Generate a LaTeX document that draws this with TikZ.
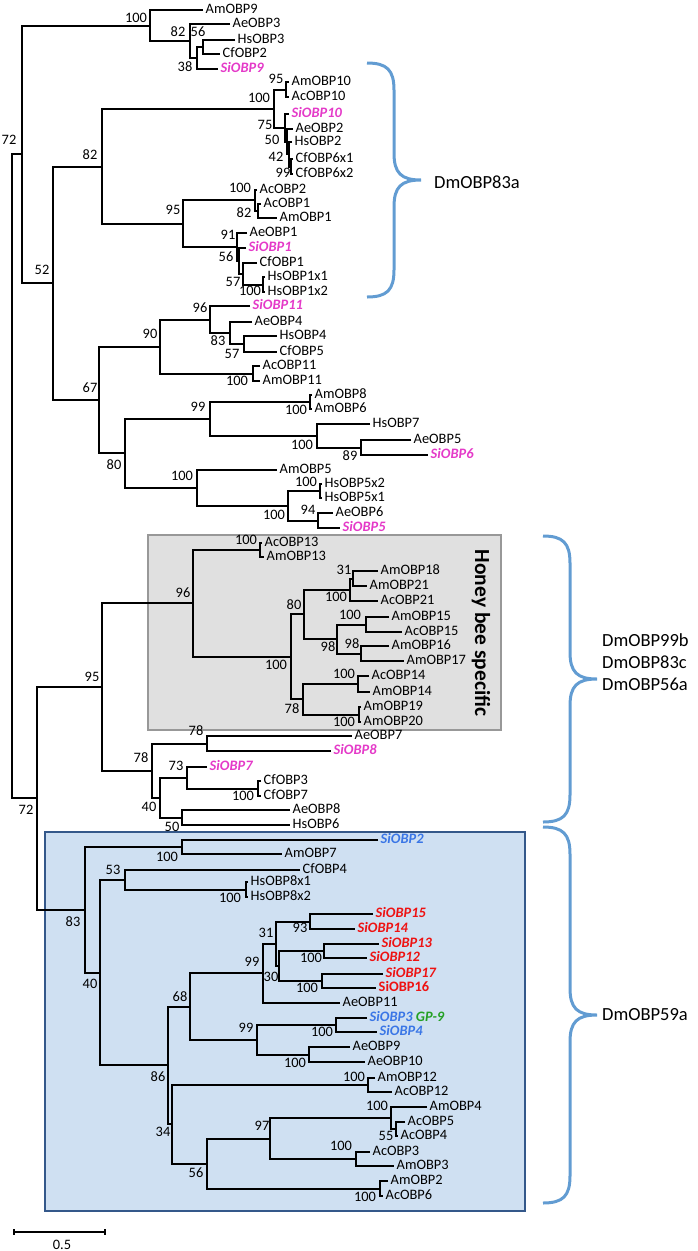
\documentclass[tikz,border=0pt]{standalone}
\usepackage{fontspec}
\setmainfont{Carlito}
\usepackage{xcolor}
\usepackage{tikz}

\definecolor{simag}{RGB}{228,58,200}
\definecolor{siblu}{RGB}{58,118,230}
\definecolor{sired}{RGB}{238,18,18}
\definecolor{gpgrn}{RGB}{36,160,36}
\definecolor{beefill}{RGB}{224,224,224}
\definecolor{beeline}{RGB}{152,152,152}
\definecolor{bluefill}{RGB}{207,224,242}
\definecolor{blueline}{RGB}{52,88,138}
\definecolor{bracecol}{RGB}{98,156,210}

\newcommand{\lblfont}{\fontsize{14.4}{16}\selectfont}

\tikzstyle{obpleaf} = [anchor=west, 
inner xsep=2.5pt, 
inner ysep=0pt, 
text depth=2.5pt, 
font=\lblfont]
\tikzstyle{obpsimag} = [obpleaf, text=simag, font=\lblfont\bfseries\itshape]
\tikzstyle{obpsiblu} = [obpleaf, text=siblu, font=\lblfont\bfseries\itshape]
\tikzstyle{obpsired} = [obpleaf, text=sired, font=\lblfont\bfseries\itshape]
\tikzstyle{bootval} = [inner sep=0pt, font=\lblfont]
\tikzstyle{treeline} = [line width=2pt]
\tikzstyle{beebox} = [fill=beefill, draw=beeline, line width=1.4pt]
\tikzstyle{bluebox} = [fill=bluefill, draw=blueline, line width=1.4pt]
\tikzstyle{bracket} = [draw=bracecol, line width=3pt]
\tikzstyle{dmtext} = [anchor=west, align=left, inner sep=0pt, 
font=\fontsize{18.5}{22}\selectfont]

\begin{document}
\begin{tikzpicture}[x=1pt, y=-1pt]

    \useasboundingbox (0,0) rectangle (697,1251);

    % shaded groups
    \draw [beebox] (148,535) rectangle (501,730);
    \draw [bluebox] (45,832) rectangle (525,1211);
    \node (beelabel) [rotate=-90, font=\fontsize{21.5}{24}\selectfont\bfseries] at (481,633) {Honey bee specific};

    % leaves
    \node (AmOBP9) [obpleaf] at (203,10) {AmOBP9};
    \node (AeOBP3) [obpleaf] at (230,24) {AeOBP3};
    \node (HsOBP3) [obpleaf] at (235,40) {HsOBP3};
    \node (CfOBP2) [obpleaf] at (220,54) {CfOBP2};
    \node (SiOBP9) [obpsimag] at (218,69) {SiOBP9};
    \node (AmOBP10) [obpleaf] at (289,82) {AmOBP10};
    \node (AcOBP10) [obpleaf] at (289,97) {AcOBP10};
    \node (SiOBP10) [obpsimag] at (289,114) {SiOBP10};
    \node (AeOBP2) [obpleaf] at (293,129) {AeOBP2};
    \node (HsOBP2) [obpleaf] at (292,142) {HsOBP2};
    \node (CfOBP6x1) [obpleaf] at (293,159) {CfOBP6x1};
    \node (CfOBP6x2) [obpleaf] at (293,174) {CfOBP6x2};
    \node (AcOBP2) [obpleaf] at (257,190) {AcOBP2};
    \node (AcOBP1) [obpleaf] at (261,204) {AcOBP1};
    \node (AmOBP1) [obpleaf] at (277,218) {AmOBP1};
    \node (AeOBP1) [obpleaf] at (247,233) {AeOBP1};
    \node (SiOBP1) [obpsimag] at (246,248) {SiOBP1};
    \node (CfOBP1) [obpleaf] at (257,263) {CfOBP1};
    \node (HsOBP1x1) [obpleaf] at (265,277) {HsOBP1x1};
    \node (HsOBP1x2) [obpleaf] at (265,292) {HsOBP1x2};
    \node (SiOBP11) [obpsimag] at (250,306) {SiOBP11};
    \node (AeOBP4) [obpleaf] at (252,322) {AeOBP4};
    \node (HsOBP4) [obpleaf] at (277,336) {HsOBP4};
    \node (CfOBP5) [obpleaf] at (277,352) {CfOBP5};
    \node (AcOBP11) [obpleaf] at (260,366) {AcOBP11};
    \node (AmOBP11) [obpleaf] at (260,381) {AmOBP11};
    \node (AmOBP8) [obpleaf] at (312,395) {AmOBP8};
    \node (AmOBP6) [obpleaf] at (312,409) {AmOBP6};
    \node (HsOBP7) [obpleaf] at (370,424) {HsOBP7};
    \node (AeOBP5) [obpleaf] at (411,440) {AeOBP5};
    \node (SiOBP6) [obpsimag] at (428,455) {SiOBP6};
    \node (AmOBP5) [obpleaf] at (277,470) {AmOBP5};
    \node (HsOBP5x2) [obpleaf] at (322,484) {HsOBP5x2};
    \node (HsOBP5x1) [obpleaf] at (322,498) {HsOBP5x1};
    \node (AeOBP6) [obpleaf] at (333,513) {AeOBP6};
    \node (SiOBP5) [obpsimag] at (340,528) {SiOBP5};

    \node (AcOBP13) [obpleaf] at (262,543) {AcOBP13};
    \node (AmOBP13) [obpleaf] at (264,557) {AmOBP13};
    \node (AmOBP18) [obpleaf] at (378,571) {AmOBP18};
    \node (AmOBP21) [obpleaf] at (367,586) {AmOBP21};
    \node (AcOBP21) [obpleaf] at (378,601) {AcOBP21};
    \node (AmOBP15) [obpleaf] at (389,617) {AmOBP15};
    \node (AcOBP15) [obpleaf] at (402,632) {AcOBP15};
    \node (AmOBP16) [obpleaf] at (389,646) {AmOBP16};
    \node (AmOBP17) [obpleaf] at (404,661) {AmOBP17};
    \node (AcOBP14) [obpleaf] at (369,676) {AcOBP14};
    \node (AmOBP14) [obpleaf] at (370,692) {AmOBP14};
    \node (AmOBP19) [obpleaf] at (361,707) {AmOBP19};
    \node (AmOBP20) [obpleaf] at (361,722) {AmOBP20};
    \node (AeOBP7) [obpleaf] at (352,736) {AeOBP7};
    \node (SiOBP8) [obpsimag] at (331,751) {SiOBP8};
    \node (SiOBP7) [obpsimag] at (207,767) {SiOBP7};
    \node (CfOBP3) [obpleaf] at (261,781) {CfOBP3};
    \node (CfOBP7) [obpleaf] at (261,796) {CfOBP7};
    \node (AeOBP8) [obpleaf] at (290,810) {AeOBP8};
    \node (HsOBP6) [obpleaf] at (290,825) {HsOBP6};

    \node (SiOBP2) [obpsiblu] at (378,840) {SiOBP2};
    \node (AmOBP7) [obpleaf] at (282,854) {AmOBP7};
    \node (CfOBP4) [obpleaf] at (300,870) {CfOBP4};
    \node (HsOBP8x1) [obpleaf] at (248,882) {HsOBP8x1};
    \node (HsOBP8x2) [obpleaf] at (248,897) {HsOBP8x2};
    \node (SiOBP15) [obpsired] at (373,914) {SiOBP15};
    \node (SiOBP14) [obpsired] at (355,929) {SiOBP14};
    \node (SiOBP13) [obpsired] at (379,944) {SiOBP13};
    \node (SiOBP12) [obpsired] at (367,958) {SiOBP12};
    \node (SiOBP17) [obpsired] at (383,974) {SiOBP17};
    \node (SiOBP16) [obpsired, font=\lblfont\bfseries] at (376,988) {SiOBP16};
    \node (AeOBP11) [obpleaf] at (340,1003) {AeOBP11};
    \node (SiOBP3) [obpsiblu] at (367,1018) {SiOBP3 \textcolor{gpgrn}{GP-9}};
    \node (SiOBP4) [obpsiblu] at (377,1032) {SiOBP4};
    \node (AeOBP9) [obpleaf] at (350,1047) {AeOBP9};
    \node (AeOBP10) [obpleaf] at (365,1062) {AeOBP10};
    \node (AmOBP12) [obpleaf] at (375,1078) {AmOBP12};
    \node (AcOBP12) [obpleaf] at (392,1092) {AcOBP12};
    \node (AmOBP4) [obpleaf] at (427,1107) {AmOBP4};
    \node (AcOBP5) [obpleaf] at (405,1122) {AcOBP5};
    \node (AcOBP4) [obpleaf] at (398,1136) {AcOBP4};
    \node (AcOBP3) [obpleaf] at (370,1152) {AcOBP3};
    \node (AmOBP3) [obpleaf] at (394,1166) {AmOBP3};
    \node (AmOBP2) [obpleaf] at (388,1181) {AmOBP2};
    \node (AcOBP6) [obpleaf] at (383,1196) {AcOBP6};

    % inner nodes
    \coordinate (root) at (12,476);
    \coordinate (n72u) at (22,154);
    \coordinate (n100a) at (150,26);
    \coordinate (n82a) at (190,41);
    \coordinate (n38) at (197,58);
    \coordinate (n56a) at (203,47);
    \coordinate (n52) at (53,283);
    \coordinate (n82b) at (102,167);
    \coordinate (n100b) at (274,109);
    \coordinate (n95b) at (286,90);
    \coordinate (n75) at (285,128);
    \coordinate (n50) at (287,142);
    \coordinate (n42) at (289,154);
    \coordinate (n99b) at (291,167);
    \coordinate (n95a) at (183,224);
    \coordinate (n100c) at (255,200);
    \coordinate (n82c) at (258,211);
    \coordinate (n91) at (237,247);
    \coordinate (n56b) at (239,261);
    \coordinate (n57a) at (243,274);
    \coordinate (n100d) at (263,285);
    \coordinate (n67) at (99,400);
    \coordinate (n90) at (160,347);
    \coordinate (n96a) at (210,320);
    \coordinate (n83a) at (230,333);
    \coordinate (n57b) at (244,344);
    \coordinate (n100e) at (253,374);
    \coordinate (n80a) at (125,453);
    \coordinate (n99a) at (210,419);
    \coordinate (n100g) at (310,402);
    \coordinate (n100h) at (317,436);
    \coordinate (n89) at (361,448);
    \coordinate (n100f) at (197,488);
    \coordinate (n100i) at (288,506);
    \coordinate (n100j) at (320,491);
    \coordinate (n94) at (318,521);

    \coordinate (n72l) at (37,798);
    \coordinate (n95c) at (102,687);
    \coordinate (n96b) at (193,603);
    \coordinate (n100k) at (260,550);
    \coordinate (n100l) at (291,657);
    \coordinate (n80b) at (304,614);
    \coordinate (n100m) at (350,590);
    \coordinate (n31a) at (353,579);
    \coordinate (n98a) at (337,639);
    \coordinate (n100n) at (366,625);
    \coordinate (n98b) at (361,654);
    \coordinate (n78b) at (303,699);
    \coordinate (n100o) at (358,684);
    \coordinate (n100p) at (359,715);
    \coordinate (n78a) at (152,771);
    \coordinate (n78c) at (207,744);
    \coordinate (n40a) at (160,798);
    \coordinate (n73) at (187,778);
    \coordinate (n100q) at (258,789);
    \coordinate (n50c) at (182,818);

    \coordinate (n83b) at (85,910);
    \coordinate (n100r) at (182,847);
    \coordinate (n40b) at (100,973);
    \coordinate (n53) at (125,880);
    \coordinate (n100s) at (246,890);
    \coordinate (n86) at (168,1065);
    \coordinate (n68) at (190,1007);
    \coordinate (n99c) at (263,973);
    \coordinate (n31b) at (276,944);
    \coordinate (n93) at (310,922);
    \coordinate (n30) at (279,966);
    \coordinate (n100t) at (324,951);
    \coordinate (n100u) at (322,981);
    \coordinate (n99d) at (257,1040);
    \coordinate (n100v) at (336,1025);
    \coordinate (n100w) at (309,1055);
    \coordinate (n34) at (172,1124);
    \coordinate (n100x) at (368,1085);
    \coordinate (n56c) at (207,1164);
    \coordinate (n97) at (270,1139);
    \coordinate (n100y) at (391,1118);
    \coordinate (n55) at (396,1129);
    \coordinate (n100z) at (356,1159);
    \coordinate (n100aa) at (380,1189);

    % branches
    \draw [treeline] (n72u) -| (root) |- (n72l);
    \draw [treeline] (n100a) -| (n72u) |- (n52);
    \draw [treeline] (AmOBP9) -| (n100a) |- (n82a);
    \draw [treeline] (AeOBP3) -| (n82a) |- (n38);
    \draw [treeline] (n56a) -| (n38) |- (SiOBP9);
    \draw [treeline] (HsOBP3) -| (n56a) |- (CfOBP2);
    \draw [treeline] (n82b) -| (n52) |- (n67);
    \draw [treeline] (n100b) -| (n82b) |- (n95a);
    \draw [treeline] (n95b) -| (n100b) |- (n75);
    \draw [treeline] (AmOBP10) -| (n95b) |- (AcOBP10);
    \draw [treeline] (SiOBP10) -| (n75) |- (n50);
    \draw [treeline] (AeOBP2) -| (n50) |- (n42);
    \draw [treeline] (HsOBP2) -| (n42) |- (n99b);
    \draw [treeline] (CfOBP6x1) -| (n99b) |- (CfOBP6x2);
    \draw [treeline] (n100c) -| (n95a) |- (n91);
    \draw [treeline] (AcOBP2) -| (n100c) |- (n82c);
    \draw [treeline] (AcOBP1) -| (n82c) |- (AmOBP1);
    \draw [treeline] (AeOBP1) -| (n91) |- (n56b);
    \draw [treeline] (SiOBP1) -| (n56b) |- (n57a);
    \draw [treeline] (CfOBP1) -| (n57a) |- (n100d);
    \draw [treeline] (HsOBP1x1) -| (n100d) |- (HsOBP1x2);
    \draw [treeline] (n90) -| (n67) |- (n80a);
    \draw [treeline] (n96a) -| (n90) |- (n100e);
    \draw [treeline] (SiOBP11) -| (n96a) |- (n83a);
    \draw [treeline] (AeOBP4) -| (n83a) |- (n57b);
    \draw [treeline] (HsOBP4) -| (n57b) |- (CfOBP5);
    \draw [treeline] (AcOBP11) -| (n100e) |- (AmOBP11);
    \draw [treeline] (n99a) -| (n80a) |- (n100f);
    \draw [treeline] (n100g) -| (n99a) |- (n100h);
    \draw [treeline] (AmOBP8) -| (n100g) |- (AmOBP6);
    \draw [treeline] (HsOBP7) -| (n100h) |- (n89);
    \draw [treeline] (AeOBP5) -| (n89) |- (SiOBP6);
    \draw [treeline] (AmOBP5) -| (n100f) |- (n100i);
    \draw [treeline] (n100j) -| (n100i) |- (n94);
    \draw [treeline] (HsOBP5x2) -| (n100j) |- (HsOBP5x1);
    \draw [treeline] (AeOBP6) -| (n94) |- (SiOBP5);

    \draw [treeline] (n95c) -| (n72l) |- (n83b);
    \draw [treeline] (n96b) -| (n95c) |- (n78a);
    \draw [treeline] (n100k) -| (n96b) |- (n100l);
    \draw [treeline] (AcOBP13) -| (n100k) |- (AmOBP13);
    \draw [treeline] (n80b) -| (n100l) |- (n78b);
    \draw [treeline] (n100m) -| (n80b) |- (n98a);
    \draw [treeline] (n31a) -| (n100m) |- (AcOBP21);
    \draw [treeline] (AmOBP18) -| (n31a) |- (AmOBP21);
    \draw [treeline] (n100n) -| (n98a) |- (n98b);
    \draw [treeline] (AmOBP15) -| (n100n) |- (AcOBP15);
    \draw [treeline] (AmOBP16) -| (n98b) |- (AmOBP17);
    \draw [treeline] (n100o) -| (n78b) |- (n100p);
    \draw [treeline] (AcOBP14) -| (n100o) |- (AmOBP14);
    \draw [treeline] (AmOBP19) -| (n100p) |- (AmOBP20);
    \draw [treeline] (n78c) -| (n78a) |- (n40a);
    \draw [treeline] (AeOBP7) -| (n78c) |- (SiOBP8);
    \draw [treeline] (n73) -| (n40a) |- (n50c);
    \draw [treeline] (SiOBP7) -| (n73) |- (n100q);
    \draw [treeline] (CfOBP3) -| (n100q) |- (CfOBP7);
    \draw [treeline] (AeOBP8) -| (n50c) |- (HsOBP6);

    \draw [treeline] (n100r) -| (n83b) |- (n40b);
    \draw [treeline] (SiOBP2) -| (n100r) |- (AmOBP7);
    \draw [treeline] (n53) -| (n40b) |- (n86);
    \draw [treeline] (CfOBP4) -| (n53) |- (n100s);
    \draw [treeline] (HsOBP8x1) -| (n100s) |- (HsOBP8x2);
    \draw [treeline] (n68) -| (n86) |- (n34);
    \draw [treeline] (n99c) -| (n68) |- (n99d);
    \draw [treeline] (n31b) -| (n99c) |- (AeOBP11);
    \draw [treeline] (n93) -| (n31b) |- (n30);
    \draw [treeline] (SiOBP15) -| (n93) |- (SiOBP14);
    \draw [treeline] (n100t) -| (n30) |- (n100u);
    \draw [treeline] (SiOBP13) -| (n100t) |- (SiOBP12);
    \draw [treeline] (SiOBP17) -| (n100u) |- (SiOBP16);
    \draw [treeline] (n100v) -| (n99d) |- (n100w);
    \draw [treeline] (SiOBP3) -| (n100v) |- (SiOBP4);
    \draw [treeline] (AeOBP9) -| (n100w) |- (AeOBP10);
    \draw [treeline] (n100x) -| (n34) |- (n56c);
    \draw [treeline] (AmOBP12) -| (n100x) |- (AcOBP12);
    \draw [treeline] (n97) -| (n56c) |- (n100aa);
    \draw [treeline] (n100y) -| (n97) |- (n100z);
    \draw [treeline] (AmOBP4) -| (n100y) |- (n55);
    \draw [treeline] (AcOBP5) -| (n55) |- (AcOBP4);
    \draw [treeline] (AcOBP3) -| (n100z) |- (AmOBP3);
    \draw [treeline] (AmOBP2) -| (n100aa) |- (AcOBP6);

    % bootstrap values
    \node (bs1) [bootval] at (136,18) {100};
    \node (bs2) [bootval] at (178,32) {82};
    \node (bs3) [bootval] at (198,32) {56};
    \node (bs4) [bootval] at (185,67) {38};
    \node (bs5) [bootval] at (9,140) {72};
    \node (bs6) [bootval] at (276,79) {95};
    \node (bs7) [bootval] at (259,98) {100};
    \node (bs8) [bootval] at (265,125) {75};
    \node (bs9) [bootval] at (272,140) {50};
    \node (bs10) [bootval] at (276,157) {42};
    \node (bs11) [bootval] at (283,173) {99};
    \node (bs12) [bootval] at (90,155) {82};
    \node (bs13) [bootval] at (240,188) {100};
    \node (bs14) [bootval] at (244,213) {82};
    \node (bs15) [bootval] at (173,210) {95};
    \node (bs16) [bootval] at (228,235) {91};
    \node (bs17) [bootval] at (226,257) {56};
    \node (bs18) [bootval] at (233,282) {57};
    \node (bs19) [bootval] at (250,291) {100};
    \node (bs20) [bootval] at (42,270) {52};
    \node (bs21) [bootval] at (200,308) {96};
    \node (bs22) [bootval] at (150,334) {90};
    \node (bs23) [bootval] at (218,341) {83};
    \node (bs24) [bootval] at (232,354) {57};
    \node (bs25) [bootval] at (237,381) {100};
    \node (bs26) [bootval] at (90,388) {67};
    \node (bs27) [bootval] at (198,407) {99};
    \node (bs28) [bootval] at (296,410) {100};
    \node (bs29) [bootval] at (302,445) {100};
    \node (bs30) [bootval] at (350,456) {89};
    \node (bs31) [bootval] at (114,465) {80};
    \node (bs32) [bootval] at (182,476) {100};
    \node (bs33) [bootval] at (306,482) {100};
    \node (bs34) [bootval] at (274,515) {100};
    \node (bs35) [bootval] at (308,510) {94};
    \node (bs36) [bootval] at (246,540) {100};
    \node (bs37) [bootval] at (183,593) {96};
    \node (bs38) [bootval] at (344,570) {31};
    \node (bs39) [bootval] at (336,597) {100};
    \node (bs40) [bootval] at (294,605) {80};
    \node (bs41) [bootval] at (350,615) {100};
    \node (bs42) [bootval] at (328,647) {98};
    \node (bs43) [bootval] at (352,644) {98};
    \node (bs44) [bootval] at (276,665) {100};
    \node (bs45) [bootval] at (344,674) {100};
    \node (bs46) [bootval] at (292,709) {78};
    \node (bs47) [bootval] at (344,722) {100};
    \node (bs48) [bootval] at (196,731) {78};
    \node (bs49) [bootval] at (141,758) {78};
    \node (bs50) [bootval] at (176,766) {73};
    \node (bs51) [bootval] at (92,677) {95};
    \node (bs52) [bootval] at (243,796) {100};
    \node (bs53) [bootval] at (149,807) {40};
    \node (bs54) [bootval] at (172,827) {50};
    \node (bs55) [bootval] at (26,810) {72};
    \node (bs56) [bootval] at (167,857) {100};
    \node (bs57) [bootval] at (113,870) {53};
    \node (bs58) [bootval] at (230,898) {100};
    \node (bs59) [bootval] at (73,922) {83};
    \node (bs60) [bootval] at (266,933) {31};
    \node (bs61) [bootval] at (300,928) {93};
    \node (bs62) [bootval] at (252,962) {99};
    \node (bs63) [bootval] at (271,977) {30};
    \node (bs64) [bootval] at (311,958) {100};
    \node (bs65) [bootval] at (307,988) {100};
    \node (bs66) [bootval] at (180,997) {68};
    \node (bs67) [bootval] at (90,984) {40};
    \node (bs68) [bootval] at (246,1028) {99};
    \node (bs69) [bootval] at (322,1032) {100};
    \node (bs70) [bootval] at (295,1063) {100};
    \node (bs71) [bootval] at (158,1077) {86};
    \node (bs72) [bootval] at (354,1077) {100};
    \node (bs73) [bootval] at (377,1106) {100};
    \node (bs74) [bootval] at (262,1126) {97};
    \node (bs75) [bootval] at (386,1136) {55};
    \node (bs76) [bootval] at (163,1132) {34};
    \node (bs77) [bootval] at (341,1146) {100};
    \node (bs78) [bootval] at (196,1173) {56};
    \node (bs79) [bootval] at (365,1197) {100};

    % braces
    \draw [bracket] (367,63) .. controls +(20,0) and +(0,-20) .. (394,90)
        -- (394,153) .. controls +(0,20) and +(-20,0) .. (421,180)
        .. controls +(-20,0) and +(0,-20) .. (394,207)
        -- (394,270) .. controls +(0,20) and +(20,0) .. (367,297);
    \draw [bracket] (543,536) .. controls +(20,0) and +(0,-20) .. (570,563)
        -- (570,652) .. controls +(0,20) and +(-20,0) .. (597,679)
        .. controls +(-20,0) and +(0,-20) .. (570,706)
        -- (570,795) .. controls +(0,20) and +(20,0) .. (543,822);
    \draw [bracket] (543,827) .. controls +(20,0) and +(0,-20) .. (570,854)
        -- (570,988) .. controls +(0,20) and +(-20,0) .. (597,1015)
        .. controls +(-20,0) and +(0,-20) .. (570,1042)
        -- (570,1176) .. controls +(0,20) and +(20,0) .. (543,1203);
    \node (dm83a) [dmtext] at (434,182) {DmOBP83a};
    \node (dm99b) [dmtext] at (602,662) {DmOBP99b\\DmOBP83c\\DmOBP56a};
    \node (dm59a) [dmtext] at (602,1015) {DmOBP59a};

    % scale bar
    \coordinate (sbl) at (14,1232);
    \coordinate (sbr) at (105,1232);
    \draw [line width=1.2pt] (sbl) -- (sbr);
    \draw [line width=1.2pt] (sbl) ++(0,-3) -- ++(0,6);
    \draw [line width=1.2pt] (sbr) ++(0,-3) -- ++(0,6);
    \node (sbtext) [bootval] at (62,1245) {0.5};

\end{tikzpicture}
\end{document}
